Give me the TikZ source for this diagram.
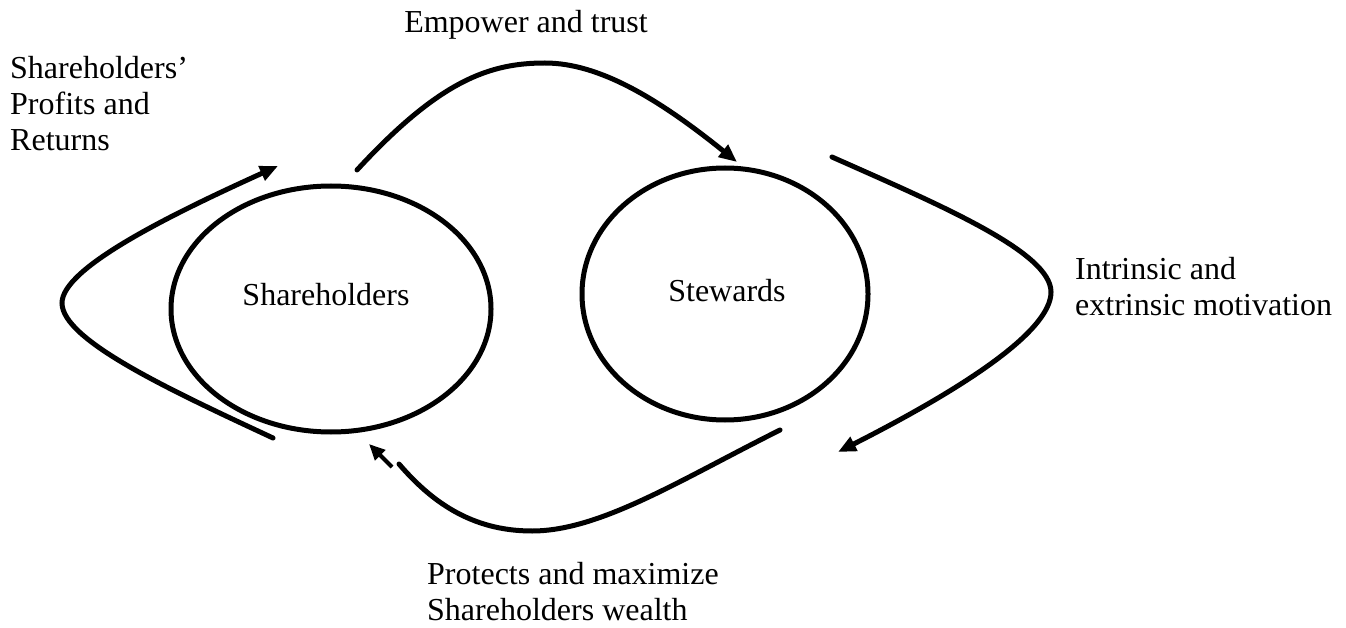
\documentclass[tikz,border=0pt]{standalone}
\usepackage{fontspec}
\setmainfont{Liberation Serif}
\usetikzlibrary{arrows.meta}
\begin{document}
\begin{tikzpicture}[x=1pt,y=-1pt,
  line/.style={line width=5pt, line cap=round},
  tip/.style={-{Triangle[length=18pt,width=15pt]}},
  lbl/.style={font=\fontsize{32}{36}\selectfont, inner sep=0pt, align=left},
  oval/.style={line width=5pt}]
\useasboundingbox (0,0) rectangle (1346,628);
% ellipses
\draw[oval] (331,309) ellipse [x radius=160, y radius=123];
\draw[oval] (725,294) ellipse [x radius=143, y radius=126];
\node[lbl] (sh) at (326,295) {Shareholders};
\node[lbl] (st) at (727,291) {Stewards};
% labels
\node[lbl, anchor=north] (emp) at (526,10) {Empower and trust};
\node[lbl, anchor=north west] (spr) at (10,56) {Shareholders’\\Profits and\\Returns};
\node[lbl, anchor=west] (mot) at (1075,287) {Intrinsic and\\extrinsic motivation};
\node[lbl, anchor=north west] (pro) at (427,562) {Protects and maximize\\Shareholders wealth};
% coordinates
\coordinate (l1) at (273,438);
\coordinate (l2) at (62,303);
\coordinate (l3) at (278,166);
\coordinate (t1) at (357,170);
\coordinate (t2) at (545,63);
\coordinate (t3) at (737,162);
\coordinate (r1) at (832,157);
\coordinate (r2) at (1051,292);
\coordinate (r3) at (838,452);
\coordinate (b1) at (780,430);
\coordinate (b2) at (532,531);
\coordinate (b3) at (399,464);
\coordinate (b4) at (392,467);
\coordinate (b5) at (369,444);
% curves
\draw[line, tip] (l1) .. controls (170,390) and (62,340) .. (l2) .. controls (62,268) and (170,215) .. (l3);
\draw[line, tip] (t1) .. controls (440,80) and (490,63) .. (t2) .. controls (600,63) and (660,100) .. (t3);
\draw[line, tip] (r1) .. controls (940,205) and (1051,252) .. (r2) .. controls (1051,332) and (960,390) .. (r3);
\draw[line] (b1) .. controls (680,480) and (600,531) .. (b2) .. controls (470,531) and (430,500) .. (b3);
\draw[line width=4pt, -{Triangle[length=16pt,width=14pt]}] (b4) -- (b5);
\end{tikzpicture}
\end{document}
